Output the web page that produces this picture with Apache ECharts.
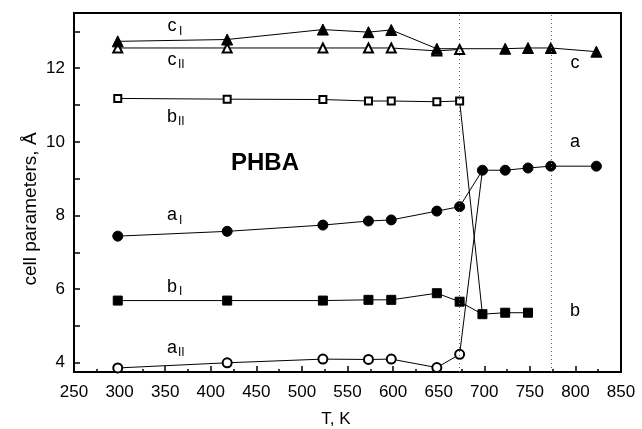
<!DOCTYPE html>
<html>
<head>
<meta charset="utf-8">
<script src="https://cdn.jsdelivr.net/npm/echarts@6/dist/echarts.min.js"></script>
<style>html,body{margin:0;padding:0;background:#fff;}#c{width:642px;height:429px;}</style>
</head>
<body>
<div id="c"></div>
<script>
// ---- data ----
const tempsLow = [298, 418, 523, 573, 598, 648, 673];
const aI  = [7.44, 7.57, 7.74, 7.85, 7.88, 8.12, 8.24];
const aII = [3.86, 4.00, 4.10, 4.09, 4.10, 3.87, 4.23];
const bI  = [5.69, 5.69, 5.69, 5.71, 5.71, 5.89, 5.66];
const bII = [11.18, 11.16, 11.15, 11.11, 11.11, 11.09, 11.11];
const cII = [12.55, 12.55, 12.55, 12.55, 12.55, 12.47, 12.51];
const tempsCI = [298, 418, 523, 573, 598, 648];
const cI  = [12.73, 12.78, 13.05, 12.98, 13.04, 12.53];
const tempsA = [698, 723, 748, 773, 823];
const aHigh = [9.23, 9.23, 9.29, 9.34, 9.34];
const tempsB = [698, 723, 748];
const bHigh = [5.32, 5.36, 5.36];
const tempsC = [723, 748, 773, 823];
const cHigh = [12.53, 12.55, 12.55, 12.45];
const transitionTemps = [673, 773];
const xTicks = [250, 850, 50];
const yLabels = [4, 6, 8, 10, 12];
const yTicks = [4, 5, 6, 7, 8, 9, 10, 11, 12, 13];

const pts = (xs, ys) => xs.map((x, i) => [x, ys[i]]);
const FONT = '"Liberation Sans", Arial, sans-serif';

const chart = echarts.init(document.getElementById('c'), null, {renderer: 'canvas'});

function lineSeries(name, data, symbol, size, z) {
  return {
    name, type: 'line', data, symbol, symbolSize: size, z: z || 2,
    lineStyle: {color: '#000', width: 1},
    itemStyle: {color: '#000', borderColor: '#000', borderWidth: 1},
    emphasis: {disabled: true}, animation: false
  };
}

const connA = {value: [tempsA[0], aHigh[0]], symbol: 'none'};
const connB = {value: [tempsB[0], bHigh[0]], symbol: 'none'};

const series = [
  Object.assign(lineSeries('cII', pts(tempsLow, cII), 'emptyTriangle', 9, 2), {
    markLine: {
      silent: true, symbol: ['none', 'none'], label: {show: false},
      lineStyle: {type: [1, 3], color: '#666', width: 1},
      data: transitionTemps.map(t => ({xAxis: t}))
    }
  }),
  lineSeries('cI', pts(tempsCI, cI).concat(pts(tempsC, cHigh)), 'triangle', 11, 3),
  lineSeries('bII', pts(tempsLow, bII).concat([connB]), 'emptyRect', 7, 2),
  lineSeries('aII', pts(tempsLow, aII).concat([connA]), 'emptyCircle', 9, 2),
  lineSeries('aI', pts(tempsLow, aI).concat(pts(tempsA, aHigh)), 'circle', 10, 3),
  lineSeries('bI', pts(tempsLow, bI).concat(pts(tempsB, bHigh)), 'rect', 9, 3)
];

function lbl(main, sub, x, y, subDx, subDy) {
  const arr = [{
    type: 'text', x: x, y: y,
    style: {text: main, font: '18px ' + FONT, fill: '#000', textAlign: 'center', textVerticalAlign: 'middle'}
  }];
  if (sub) arr.push({
    type: 'text', x: x + subDx, y: y + subDy,
    style: {text: sub, font: '12px ' + FONT, fill: '#000', textAlign: 'left', textVerticalAlign: 'middle'}
  });
  return arr;
}

const graphics = [].concat(
  lbl('c', 'I', 172, 26, 7, 6),
  lbl('c', 'II', 172, 60, 6, 5),
  lbl('b', 'II', 172, 117, 6, 5),
  lbl('a', 'I', 172, 215, 7, 6),
  lbl('b', 'I', 172, 287, 7, 5),
  lbl('a', 'II', 172, 348, 6, 5),
  lbl('c', null, 575, 63),
  lbl('a', null, 575, 142),
  lbl('b', null, 575, 311),
  [{
    type: 'text', x: 265, y: 163,
    style: {text: 'PHBA', font: 'bold 24px ' + FONT, fill: '#000', textAlign: 'center', textVerticalAlign: 'middle'}
  }, {
    type: 'text', x: 336, y: 419,
    style: {text: 'T, K', font: '17px ' + FONT, fill: '#000', textAlign: 'center', textVerticalAlign: 'middle'}
  }, {
    type: 'text', x: 31, y: 209, rotation: Math.PI / 2,
    style: {text: 'cell parameters, Å', font: '19px ' + FONT, fill: '#000', textAlign: 'center', textVerticalAlign: 'middle'}
  }]
);

chart.setOption({
  animation: false,
  backgroundColor: '#fff',
  grid: {left: 74, right: 21, top: 13, bottom: 57, show: true, borderColor: '#000', borderWidth: 2, backgroundColor: 'transparent'},
  xAxis: {
    type: 'value', min: xTicks[0], max: xTicks[1], interval: xTicks[2],
    axisLine: {show: true, lineStyle: {color: '#000', width: 2}},
    axisTick: {show: true, inside: true, length: 6, lineStyle: {color: '#000', width: 1.5}},
    minorTick: {show: true, splitNumber: 2, length: 3, lineStyle: {color: '#000', width: 1.5}},
    splitLine: {show: false}, minorSplitLine: {show: false},
    axisLabel: {color: '#000', fontSize: 17, fontFamily: FONT, margin: 12}
  },
  yAxis: {
    type: 'value', min: 3.75, max: 13.5,
    axisLine: {show: true, lineStyle: {color: '#000', width: 2}},
    axisTick: {show: true, inside: true, length: 6, lineStyle: {color: '#000', width: 1.5}, customValues: yTicks},
    splitLine: {show: false},
    axisLabel: {color: '#000', fontSize: 17, fontFamily: FONT, margin: 9, customValues: yLabels}
  },
  series: series,
  graphic: graphics
});
</script>
</body>
</html>
